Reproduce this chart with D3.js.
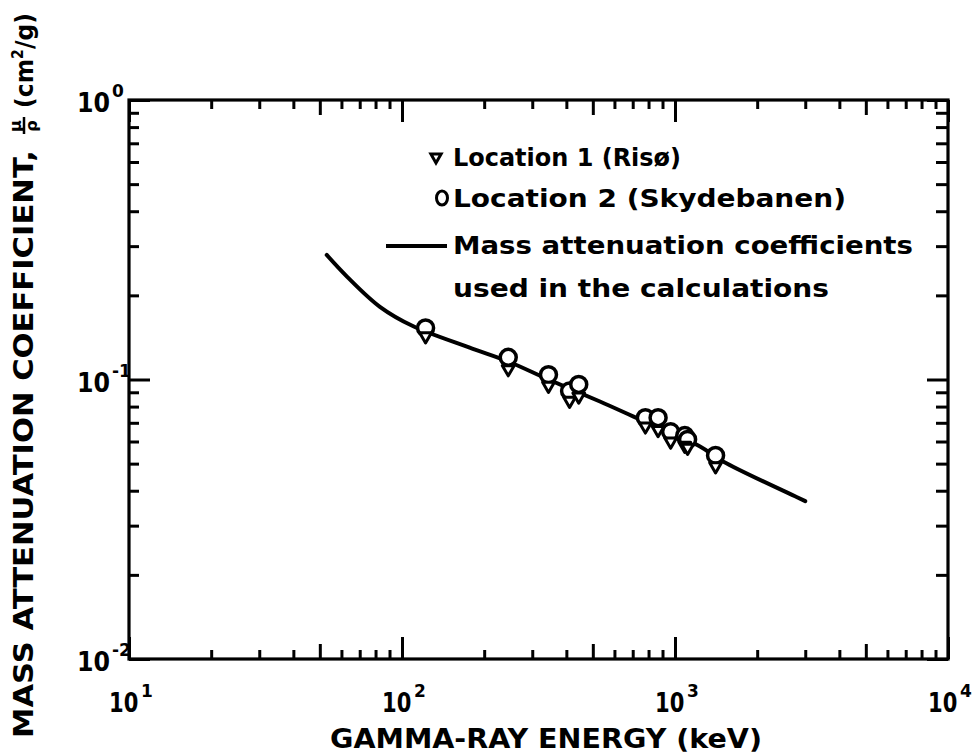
<!DOCTYPE html>
<html>
<head>
<meta charset="utf-8">
<script src="https://cdn.jsdelivr.net/npm/d3@7"></script>
<style>
  html, body { margin: 0; padding: 0; background: #fff; }
  svg { display: block; }
  text { font-family: "DejaVu Sans", sans-serif; font-weight: bold; fill: #000; }
</style>
</head>
<body>
<svg id="chart" width="976" height="755"></svg>
<script>
// Eu-152 gamma-line energies (keV) at which the coefficients were measured
const energies = [122, 245, 344, 411, 444, 779, 867, 964, 1086, 1112, 1408];
// Location 1 (Risø), cm^2/g
const location1 = [0.143, 0.109, 0.095, 0.084, 0.087, 0.068, 0.066, 0.060, 0.058, 0.057, 0.049];
// Location 2 (Skydebanen), cm^2/g
const location2 = [0.153, 0.120, 0.104, 0.091, 0.096, 0.073, 0.073, 0.065, 0.063, 0.061, 0.0535];
// Mass attenuation coefficients used in the calculations
const curveEnergy = [53, 63, 83, 110, 177, 245, 344, 531, 702, 1235, 1500, 2800, 3000];
const curveMu     = [0.279, 0.233, 0.182, 0.155, 0.130, 0.116, 0.100, 0.0834, 0.0738, 0.0576, 0.0509, 0.0379, 0.0367];
// Axis decades
const xDecades = [10, 100, 1000, 10000];
const xExponents = ["1", "2", "3", "4"];
const yDecades = [1, 0.1, 0.01];
const yExponents = ["0", "-1", "-2"];

const svg = d3.select("#chart");
const plotLeft = 129, plotRight = 948, plotTop = 100, plotBottom = 659;

const x = d3.scaleLog().domain([10, 10000]).range([plotLeft, plotRight]);
const y = d3.scaleLog().domain([0.01, 1]).range([plotBottom, plotTop]);

// all tick positions within each decade
function logTicks(lo, hi) {
  const t = [];
  for (let d = lo; d < hi; d *= 10) for (let k = 1; k <= 10; k++) t.push(+(d * k).toPrecision(6));
  return Array.from(new Set(t));
}
const xTickVals = logTicks(10, 10000);
const yTickVals = logTicks(0.01, 1);
const isDecade = v => Math.abs(Math.log10(v) - Math.round(Math.log10(v))) < 1e-9;
const isFive = v => Math.abs(v / Math.pow(10, Math.floor(Math.log10(v) + 1e-9)) - 5) < 1e-6;

const xLen = v => isDecade(v) ? 22 : (isFive(v) ? 15 : 9);
const yLenL = v => isDecade(v) ? 21 : 10;
const yLenR = v => isDecade(v) ? 21 : 12;

function styleAxis(g) {
  g.select(".domain").remove();
  g.selectAll(".tick line").attr("stroke", "#000").attr("stroke-width", 3);
  g.selectAll(".tick text").remove();
}

// bottom axis, ticks pointing inward
svg.append("g").attr("transform", `translate(0,${plotBottom})`)
  .call(d3.axisBottom(x).tickValues(xTickVals).tickSize(0)).call(styleAxis)
  .selectAll(".tick line").attr("y2", d => -xLen(d));
// top axis
svg.append("g").attr("transform", `translate(0,${plotTop})`)
  .call(d3.axisTop(x).tickValues(xTickVals).tickSize(0)).call(styleAxis)
  .selectAll(".tick line").attr("y2", d => xLen(d));
// left axis
svg.append("g").attr("transform", `translate(${plotLeft},0)`)
  .call(d3.axisLeft(y).tickValues(yTickVals).tickSize(0)).call(styleAxis)
  .selectAll(".tick line").attr("x2", d => yLenL(d));
// right axis
svg.append("g").attr("transform", `translate(${plotRight},0)`)
  .call(d3.axisRight(y).tickValues(yTickVals).tickSize(0)).call(styleAxis)
  .selectAll(".tick line").attr("x2", d => -yLenR(d));

// frame
svg.append("rect")
  .attr("x", plotLeft).attr("y", plotTop)
  .attr("width", plotRight - plotLeft).attr("height", plotBottom - plotTop)
  .attr("fill", "none").attr("stroke", "#000").attr("stroke-width", 3.2);

// x tick labels: 10^n, condensed base digits plus raised exponent
const xl = svg.append("g");
xl.selectAll("text.base").data(xDecades).join("text").attr("class", "base")
  .attr("transform", d => `translate(${x(d) - 20},712) scale(0.78,1)`)
  .attr("font-size", 27)
  .text("10");
xl.selectAll("text.exp").data(xDecades).join("text").attr("class", "exp")
  .attr("x", d => x(d) + 12).attr("y", 697)
  .attr("font-size", 17)
  .text((d, i) => xExponents[i]);

// y tick labels: 10^n
const yl = svg.append("g");
yl.selectAll("text.base").data(yDecades).join("text").attr("class", "base")
  .attr("transform", d => `translate(77,${y(d) + 12}) scale(0.88,1)`)
  .attr("font-size", 27)
  .text("10");
yl.selectAll("text.exp").data(yDecades).join("text").attr("class", "exp")
  .attr("x", 112).attr("y", d => y(d) - 3)
  .attr("font-size", 17)
  .text((d, i) => yExponents[i]);

// axis titles
svg.append("text").attr("x", 546).attr("y", 748).attr("text-anchor", "middle")
  .attr("font-size", 26).attr("textLength", 432).attr("lengthAdjust", "spacingAndGlyphs")
  .text("GAMMA-RAY ENERGY (keV)");

const yt = svg.append("g").attr("transform", "translate(22,738) rotate(-90)");
yt.append("text").attr("x", 0).attr("y", 11).attr("font-size", 27)
  .attr("textLength", 588).attr("lengthAdjust", "spacingAndGlyphs")
  .text("MASS ATTENUATION COEFFICIENT,");
yt.append("text").attr("x", 612).attr("y", -1).attr("text-anchor", "middle").attr("font-size", 16).text("μ");
yt.append("line").attr("x1", 604).attr("x2", 621).attr("y1", 2).attr("y2", 2).attr("stroke", "#000").attr("stroke-width", 2.5);
yt.append("text").attr("x", 612).attr("y", 15).attr("text-anchor", "middle").attr("font-size", 16).text("ρ");
const unit = yt.append("text").attr("x", 630).attr("y", 11).attr("font-size", 25)
  .attr("textLength", 95).attr("lengthAdjust", "spacingAndGlyphs");
unit.append("tspan").text("(cm");
unit.append("tspan").text("2").attr("font-size", 15).attr("dy", -10);
unit.append("tspan").text("/g)").attr("dy", 10);

// curve
const line = d3.line().x(d => x(d[0])).y(d => y(d[1])).curve(d3.curveCatmullRom.alpha(0.5));
svg.append("path").datum(d3.zip(curveEnergy, curveMu))
  .attr("d", line).attr("fill", "none").attr("stroke", "#000")
  .attr("stroke-width", 4).attr("stroke-linecap", "round");

// markers
svg.append("g").selectAll("circle").data(d3.zip(energies, location2)).join("circle")
  .attr("cx", d => x(d[0])).attr("cy", d => y(d[1])).attr("r", 8)
  .attr("fill", "#fff").attr("stroke", "#000").attr("stroke-width", 3.5);

const tri = d3.symbol().type(d3.symbolTriangle).size(60);
svg.append("g").selectAll("path").data(d3.zip(energies, location1)).join("path")
  .attr("transform", d => `translate(${x(d[0])},${y(d[1])}) rotate(180)`)
  .attr("d", tri).attr("fill", "#fff").attr("stroke", "#000")
  .attr("stroke-width", 3).attr("stroke-linejoin", "round");

// legend
const lg = svg.append("g");
lg.append("path").attr("transform", "translate(436,157) rotate(180)")
  .attr("d", d3.symbol().type(d3.symbolTriangle).size(45))
  .attr("fill", "#fff").attr("stroke", "#000").attr("stroke-width", 3);
lg.append("ellipse").attr("cx", 442).attr("cy", 198).attr("rx", 5.5).attr("ry", 7)
  .attr("fill", "#fff").attr("stroke", "#000").attr("stroke-width", 3);
lg.append("line").attr("x1", 386).attr("x2", 447).attr("y1", 246).attr("y2", 246)
  .attr("stroke", "#000").attr("stroke-width", 4);
const legendRows = [
  ["Location 1 (Risø)", 166, 228],
  ["Location 2 (Skydebanen)", 207, 393],
  ["Mass attenuation coefficients", 254, 460],
  ["used in the calculations", 297, 376]
];
lg.selectAll("text.row").data(legendRows).join("text").attr("class", "row")
  .attr("x", 453).attr("y", d => d[1]).attr("font-size", 24)
  .attr("textLength", d => d[2]).attr("lengthAdjust", "spacingAndGlyphs")
  .text(d => d[0]);
</script>
</body>
</html>
